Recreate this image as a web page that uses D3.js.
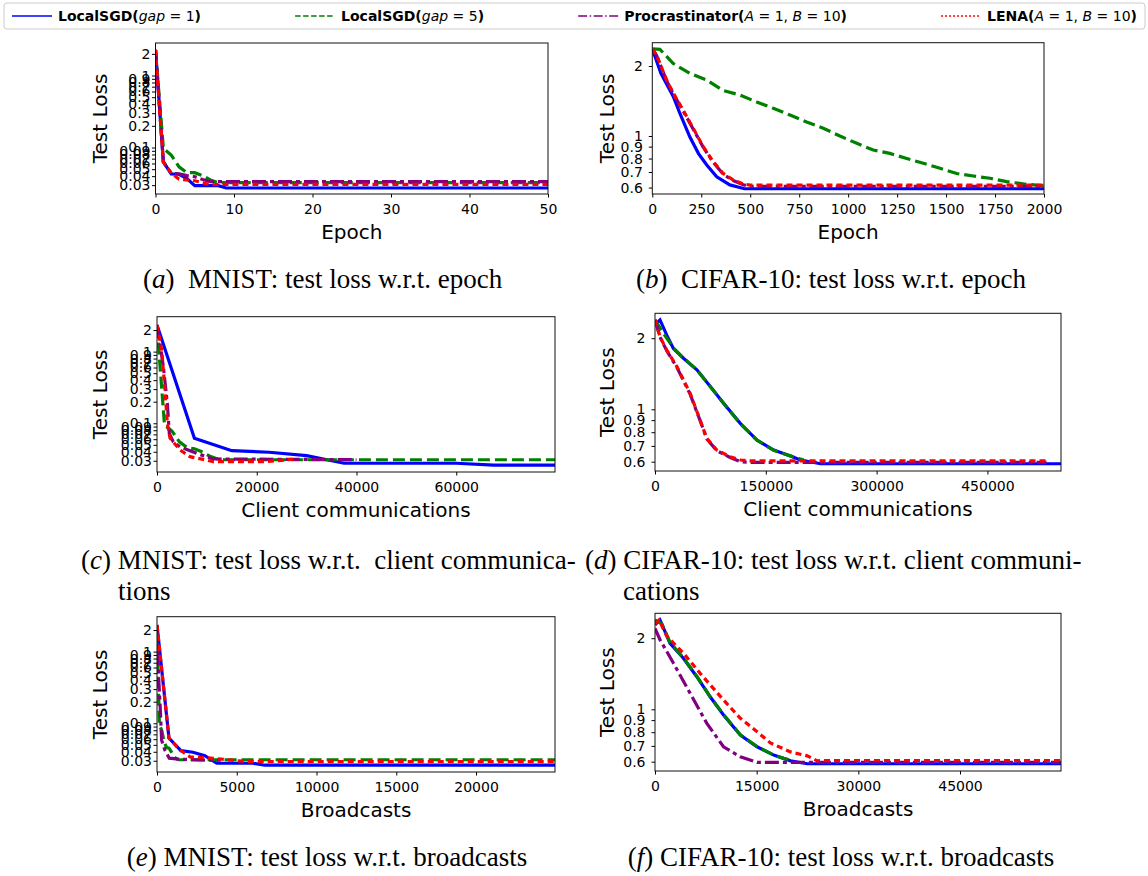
<!doctype html>
<html lang="en">
<head>
<meta charset="UTF-8">
<title>Test loss curves</title>
<style>
body { margin: 0; background: #fff; }
svg { display: block; font-family: "DejaVu Sans", sans-serif; }
.tick text { font-size: 14px; fill: #000; font-family: "DejaVu Sans", sans-serif; }
.tick line { stroke: #000; }
.frame { fill: none; stroke: #111; stroke-width: 1; }
.alabel { font-size: 20px; fill: #000; }
.cap { font-family: "Liberation Serif", "Times New Roman", serif; font-size: 27px; fill: #000; white-space: pre; }
.leg { font-size: 14px; font-weight: bold; white-space: pre; }
</style>
</head>
<body>
<script src="https://cdn.jsdelivr.net/npm/d3@7"></script>
<script>
// ---- tick values ----
var mnistEpochTicks = [0, 10, 20, 30, 40, 50];
var cifarEpochTicks = [0, 250, 500, 750, 1000, 1250, 1500, 1750, 2000];
var mnistCommTicks = [0, 20000, 40000, 60000];
var cifarCommTicks = [0, 150000, 300000, 450000];
var mnistBcastTicks = [0, 5000, 10000, 15000, 20000];
var cifarBcastTicks = [0, 15000, 30000, 45000];
var mnistLossTicks = [2, 1, 0.9, 0.8, 0.7, 0.6, 0.5, 0.4, 0.3, 0.2, 0.1, 0.09, 0.08, 0.07, 0.06, 0.05, 0.04, 0.03];
var cifarLossTicks = [2, 1, 0.9, 0.8, 0.7, 0.6];

// ---- (a) MNIST, test loss vs epoch ----
var aBlue = [[0,2.27],[1,0.063],[2,0.043],[3,0.0425],[4,0.037],[5,0.0295],[8,0.0295],[9,0.0274],[50,0.0274]];
var aGreen = [[0,2.27],[1,0.0975],[2,0.0787],[3,0.054],[4,0.0447],[5,0.0447],[6,0.0407],[7,0.0354],[8,0.0325],[50,0.0325]];
var aPurple = [[0,2.27],[1,0.063],[2,0.0438],[3,0.043],[4,0.0407],[5,0.0393],[6,0.036],[7,0.0335],[50,0.0335]];
var aRed = [[0,2.27],[1,0.063],[2,0.044],[3,0.0362],[4,0.0354],[5,0.0345],[6,0.0325],[7,0.0302],[8,0.0308],[50,0.0308]];

// ---- (b) CIFAR-10, test loss vs epoch ----
var bBlue = [[0,2.37],[44,1.86],[107,1.48],[141,1.25],[192,0.99],[236,0.84],[278,0.75],[329,0.668],[396,0.616],[447,0.6],[470,0.593],[2000,0.593]];
var bGreen = [[0,2.37],[39,2.36],[107,2.05],[192,1.86],[278,1.74],[362,1.57],[448,1.5],[533,1.4],[618,1.315],[703,1.23],[788,1.15],[873,1.08],[958,1.0],[1044,0.93],[1128,0.87],[1213,0.842],[1299,0.8],[1384,0.763],[1469,0.726],[1554,0.69],[1639,0.673],[1724,0.658],[1809,0.636],[1894,0.622],[2000,0.61]];
var bPurple = [[0,2.37],[22,2.22],[73,1.73],[107,1.52],[158,1.28],[209,1.07],[260,0.895],[311,0.77],[362,0.685],[413,0.643],[464,0.617],[500,0.607],[2000,0.607]];
var bRed = [[0,2.37],[22,2.23],[73,1.74],[107,1.53],[158,1.29],[209,1.08],[260,0.9],[311,0.776],[362,0.69],[413,0.647],[464,0.622],[500,0.615],[2000,0.615]];

// ---- (c) MNIST, test loss vs client communications ----
var cBlue = [[0,2.35],[7500,0.062],[15000,0.0415],[22500,0.0394],[30000,0.0353],[37500,0.0277],[60000,0.0277],[67500,0.026],[79800,0.026]];
var cGreen = [[0,2.3],[1500,0.095],[3000,0.078],[4500,0.055],[6000,0.046],[7500,0.044],[9000,0.04],[10500,0.035],[12000,0.032],[13500,0.031],[79800,0.031]];
var cPurple = [[0,2.3],[600,1.3],[1270,0.62],[2070,0.19],[2470,0.072],[3270,0.055],[4610,0.047],[7960,0.038],[11300,0.0318],[40000,0.031]];
var cRed = [[0,2.35],[940,1.05],[1600,0.29],[2070,0.1],[2610,0.062],[4610,0.0424],[6620,0.0342],[11300,0.0292],[22000,0.0292],[27300,0.0315]];

// ---- (d) CIFAR-10, test loss vs client communications ----
var dBlue = [[0,2.28],[6800,2.39],[15900,2.06],[24900,1.81],[38500,1.645],[56700,1.47],[74800,1.25],[92800,1.06],[115400,0.872],[138000,0.741],[160700,0.672],[183300,0.634],[196900,0.61],[224000,0.588],[549600,0.588]];
var dGreen = [[0,2.39],[11300,2.1],[24900,1.82],[38500,1.65],[56700,1.47],[74800,1.25],[92800,1.06],[115400,0.87],[138000,0.74],[160700,0.67],[183300,0.635],[201400,0.61]];
var dPurple = [[0,2.39],[6800,2.02],[15900,1.77],[29400,1.51],[47500,1.16],[61100,0.895],[70100,0.75],[83700,0.668],[101800,0.625],[115400,0.6],[130000,0.596],[530000,0.596]];
var dRed = [[0,2.39],[6800,2.03],[15900,1.78],[29400,1.52],[47500,1.17],[61100,0.9],[70100,0.753],[83700,0.672],[101800,0.629],[115400,0.61],[130000,0.605],[530000,0.605]];

// ---- (e) MNIST, test loss vs broadcasts ----
var eBlue = [[0,2.35],[750,0.062],[1500,0.0415],[2250,0.0394],[3000,0.0353],[3750,0.0277],[6000,0.0277],[6750,0.026],[24950,0.026]];
var eGreen = [[0,2.3],[150,0.095],[300,0.079],[450,0.055],[600,0.046],[750,0.045],[900,0.04],[1050,0.035],[1200,0.032],[1350,0.031],[24950,0.031]];
var ePurple = [[0,2.3],[100,0.45],[210,0.153],[290,0.058],[500,0.042],[770,0.0326],[1440,0.0315],[3120,0.0306],[4000,0.0306]];
var eRed = [[0,2.35],[750,0.062],[1440,0.0424],[2070,0.034],[3530,0.0325],[5000,0.03],[6000,0.0292],[24950,0.0292]];

// ---- (f) CIFAR-10, test loss vs broadcasts ----
var fBlue = [[0,2.28],[740,2.39],[2220,1.9],[4190,1.645],[6170,1.374],[8140,1.13],[10110,0.946],[12590,0.778],[15060,0.694],[17520,0.64],[19990,0.605],[22460,0.588],[59900,0.588]];
var fGreen = [[0,2.39],[1000,2.3],[2220,1.92],[4190,1.65],[6170,1.38],[8140,1.13],[10110,0.95],[12590,0.78],[15060,0.695],[17520,0.64],[19000,0.62],[20000,0.61]];
var fPurple = [[0,2.2],[740,1.97],[2710,1.57],[5180,1.17],[7650,0.872],[10110,0.694],[12590,0.629],[15060,0.596],[59900,0.596]];
var fRed = [[0,2.3],[600,2.39],[1730,2.04],[4190,1.73],[6660,1.42],[10110,1.095],[12590,0.916],[15060,0.804],[17030,0.72],[20000,0.66],[22460,0.635],[23940,0.605],[25000,0.607],[59900,0.607]];

var W = 1148, H = 876;

// line styles: LocalSGD(1), LocalSGD(5), Procrastinator, LENA
var styles = [
	{ color: "#0000ff", dash: null, legDash: null },
	{ color: "#008000", dash: "12,5", legDash: "5.5,2.5" },
	{ color: "#800080", dash: "14,4,4,4", legDash: "9,2.5,1.5,2.5" },
	{ color: "#ff0000", dash: "6,4", legDash: "2,2" }
];

var panels = [
	{ id: "a", x0: 155.5, x1: 548, y0: 43, y1: 194, xDom: [0, 50], yDom: [0.0226, 2.83], xTicks: mnistEpochTicks, yTicks: mnistLossTicks, xLabel: "Epoch", ylx: 100, pad: 1.5, data: [aBlue, aGreen, aPurple, aRed] },
	{ id: "b", x0: 652.3, x1: 1044, y0: 42.7, y1: 194, xDom: [0, 2000], yDom: [0.563, 2.52], xTicks: cifarEpochTicks, yTicks: cifarLossTicks, xLabel: "Epoch", ylx: 607, pad: 6, data: [bBlue, bGreen, bPurple, bRed] },
	{ id: "c", x0: 157, x1: 555, y0: 316.7, y1: 472, xDom: [0, 79800], yDom: [0.0209, 3.07], xTicks: mnistCommTicks, yTicks: mnistLossTicks, xLabel: "Client communications", ylx: 100, pad: 1.5, data: [cBlue, cGreen, cPurple, cRed] },
	{ id: "d", x0: 655, x1: 1061, y0: 313.3, y1: 471, xDom: [0, 549600], yDom: [0.548, 2.55], xTicks: cifarCommTicks, yTicks: cifarLossTicks, xLabel: "Client communications", ylx: 607, pad: 6, data: [dBlue, dGreen, dPurple, dRed] },
	{ id: "e", x0: 157, x1: 555, y0: 616.7, y1: 772, xDom: [0, 24950], yDom: [0.0209, 3.07], xTicks: mnistBcastTicks, yTicks: mnistLossTicks, xLabel: "Broadcasts", ylx: 100, pad: 1.5, data: [eBlue, eGreen, ePurple, eRed] },
	{ id: "f", x0: 655, x1: 1061, y0: 613.3, y1: 771, xDom: [0, 59900], yDom: [0.548, 2.55], xTicks: cifarBcastTicks, yTicks: cifarLossTicks, xLabel: "Broadcasts", ylx: 607, pad: 6, data: [fBlue, fGreen, fPurple, fRed] }
];

var svg = d3.select("body").append("svg")
	.attr("width", W)
	.attr("height", H);

svg.append("rect").attr("width", W).attr("height", H).attr("fill", "#fff");

var defs = svg.append("defs");

panels.forEach(function(p) {
	var x = d3.scaleLinear().domain(p.xDom).range([p.x0, p.x1]);
	var y = d3.scaleLog().domain(p.yDom).range([p.y1, p.y0]);
	var g = svg.append("g").attr("class", "panel-" + p.id);

	defs.append("clipPath").attr("id", "clip-" + p.id)
		.append("rect")
		.attr("x", p.x0).attr("y", p.y0)
		.attr("width", p.x1 - p.x0).attr("height", p.y1 - p.y0);

	var line = d3.line()
		.x(function(d){ return x(d[0]); })
		.y(function(d){ return y(d[1]); });

	g.append("g")
		.attr("clip-path", "url(#clip-" + p.id + ")")
		.selectAll("path")
		.data(p.data)
		.join("path")
		.attr("d", line)
		.attr("fill", "none")
		.attr("stroke", function(d, i){ return styles[i].color; })
		.attr("stroke-width", 3.2)
		.attr("stroke-dasharray", function(d, i){ return styles[i].dash; });

	g.append("g")
		.attr("transform", "translate(0," + p.y1 + ")")
		.call(d3.axisBottom(x).tickValues(p.xTicks).tickFormat(d3.format("d")).tickSize(3.5).tickPadding(7))
		.call(function(a){ a.select(".domain").remove(); });

	g.append("g")
		.attr("transform", "translate(" + p.x0 + ",0)")
		.call(d3.axisLeft(y).tickValues(p.yTicks).tickFormat(function(d){ return String(d); }).tickSize(3.5).tickPadding(p.pad))
		.call(function(a){ a.select(".domain").remove(); });

	g.append("rect")
		.attr("class", "frame")
		.attr("x", p.x0).attr("y", p.y0)
		.attr("width", p.x1 - p.x0).attr("height", p.y1 - p.y0);

	g.append("text")
		.attr("class", "alabel")
		.attr("x", (p.x0 + p.x1) / 2)
		.attr("y", p.y1 + 45)
		.attr("text-anchor", "middle")
		.text(p.xLabel);

	g.append("text")
		.attr("class", "alabel")
		.attr("transform", "translate(" + (p.ylx + 7) + "," + ((p.y0 + p.y1) / 2) + ") rotate(-90)")
		.attr("text-anchor", "middle")
		.text("Test Loss");
});

// ---- legend (columns spread over the full box, like mode="expand") ----
var legendItems = [
	[["LocalSGD(", "b"], ["gap", "i"], [" = 1", "n"], [")", "b"]],
	[["LocalSGD(", "b"], ["gap", "i"], [" = 5", "n"], [")", "b"]],
	[["Procrastinator(", "b"], ["A", "i"], [" = 1, ", "n"], ["B", "i"], [" = 10", "n"], [")", "b"]],
	[["LENA(", "b"], ["A", "i"], [" = 1, ", "n"], ["B", "i"], [" = 10", "n"], [")", "b"]]
];
var boxX = 4, boxW = 1141, handleLen = 40, handlePad = 6, innerPad = 8;

svg.append("rect")
	.attr("x", boxX).attr("y", 3)
	.attr("width", boxW).attr("height", 26)
	.attr("rx", 3)
	.attr("fill", "#fff")
	.attr("stroke", "#ccc");

var legTexts = legendItems.map(function(parts) {
	var t = svg.append("text").attr("class", "leg").attr("y", 21);
	parts.forEach(function(pt) {
		t.append("tspan")
			.attr("font-weight", pt[1] === "b" ? "bold" : "normal")
			.attr("font-style", pt[1] === "i" ? "italic" : "normal")
			.text(pt[0]);
	});
	return t;
});
var colW = legTexts.map(function(t){ return handleLen + handlePad + t.node().getComputedTextLength(); });
var gap = (boxW - 2 * innerPad - d3.sum(colW)) / (colW.length - 1);
var cx = boxX + innerPad;
legTexts.forEach(function(t, i) {
	svg.append("line")
		.attr("x1", cx).attr("x2", cx + handleLen)
		.attr("y1", 16).attr("y2", 16)
		.attr("stroke", styles[i].color)
		.attr("stroke-width", 1.6)
		.attr("stroke-dasharray", styles[i].legDash);
	t.attr("x", cx + handleLen + handlePad);
	cx += colW[i] + gap;
});

// ---- captions ----
function caption(x, y, letter, rest, anchor) {
	var t = svg.append("text").attr("class", "cap").attr("x", x).attr("y", y)
		.attr("text-anchor", anchor || "start");
	t.append("tspan").text("(");
	t.append("tspan").attr("font-style", "italic").text(letter);
	t.append("tspan").text(rest);
	return t;
}
function plain(x, y, s) {
	svg.append("text").attr("class", "cap").attr("x", x).attr("y", y).text(s);
}

caption(143, 288, "a", ")  MNIST: test loss w.r.t. epoch");
caption(636, 288, "b", ")  CIFAR-10: test loss w.r.t. epoch");
caption(81, 569, "c", ") MNIST: test loss w.r.t.  client communica-");
plain(118, 600, "tions");
caption(585, 569, "d", ") CIFAR-10: test loss w.r.t. client communi-");
plain(623, 600, "cations");
caption(327, 866, "e", ") MNIST: test loss w.r.t. broadcasts", "middle");
caption(841, 866, "f", ") CIFAR-10: test loss w.r.t. broadcasts", "middle");
</script>
</body>
</html>
